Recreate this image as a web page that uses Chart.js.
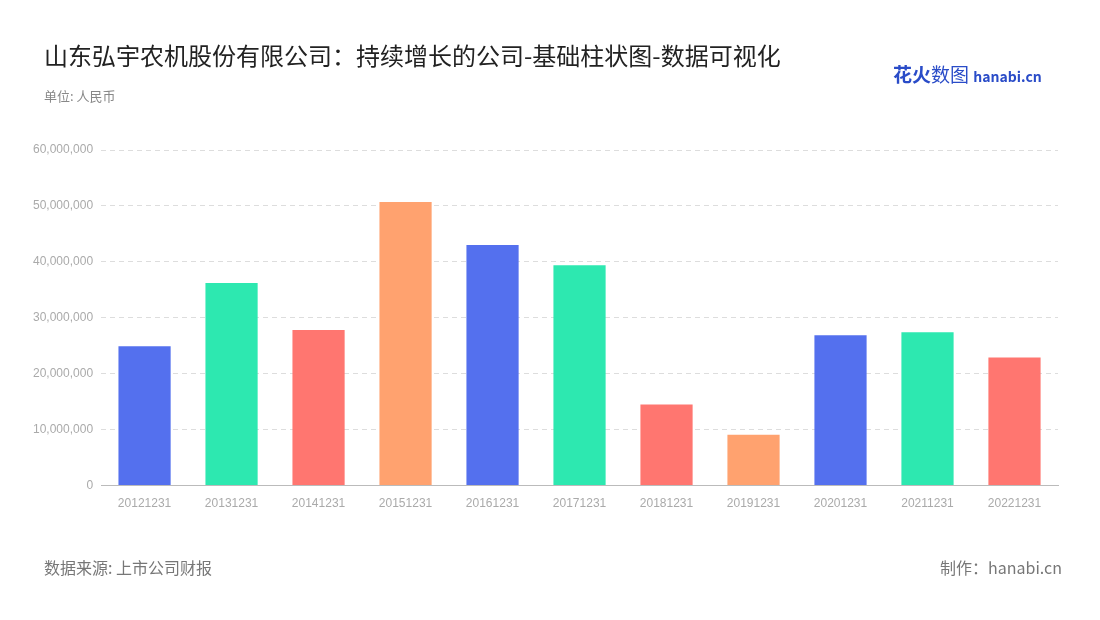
<!DOCTYPE html>
<html>
<head>
<meta charset="utf-8">
<script src="https://cdn.jsdelivr.net/npm/chart.js@4/dist/chart.umd.min.js"></script>
<style>
  body { margin: 0; background: #fff; font-family: "Noto Sans CJK SC", "Noto Sans", sans-serif; }
  #wrap { position: relative; width: 1100px; height: 620px; }
  canvas { position: absolute; left: 0; top: 0; }
  .t { position: absolute; white-space: nowrap; }
</style>
</head>
<body>
<div id="wrap">
  <canvas id="c" width="1100" height="620"></canvas>
  <div class="t" style="left:44px;top:37px;font-size:24px;color:#222;">山东弘宇农机股份有限公司：持续增长的公司-基础柱状图-数据可视化</div>
  <div class="t" style="left:44px;top:86px;font-size:13px;color:#888;">单位: 人民币</div>
  <div class="t" style="left:893px;top:60px;font-size:19px;font-weight:bold;color:#2a4cc8;">花火<span style="font-weight:normal">数图</span> <span style="font-size:14px;">hanabi.cn</span></div>
  <div class="t" style="left:44px;top:555px;font-size:16px;color:#777;">数据来源: 上市公司财报</div>
  <div class="t" style="left:940px;top:555px;font-size:16px;color:#777;">制作：hanabi.cn</div>
</div>
<script>
const categories = ['20121231','20131231','20141231','20151231','20161231','20171231','20181231','20191231','20201231','20211231','20221231'];
const values = [24900000, 36200000, 27800000, 50700000, 43000000, 39400000, 14500000, 9100000, 26900000, 27400000, 22900000];
const palette = ['#5470ee', '#2de8b0', '#ff7670', '#ffa26f'];
const yTicks = [0, 10000000, 20000000, 30000000, 40000000, 50000000, 60000000];

new Chart(document.getElementById('c'), {
  type: 'bar',
  data: {
    labels: categories,
    datasets: [{
      data: values,
      backgroundColor: categories.map((_, i) => palette[i % palette.length]),
      categoryPercentage: 0.6,
      barPercentage: 1
    }]
  },
  options: {
    responsive: false,
    animation: false,
    layout: { padding: { top: 150, bottom: 106, left: 25, right: 42 } },
    plugins: { legend: { display: false }, tooltip: { enabled: false } },
    scales: {
      x: {
        grid: { display: false },
        border: { color: '#bbb' },
        ticks: { color: '#aaa', font: { size: 12 }, maxRotation: 0, autoSkip: false }
      },
      y: {
        min: 0, max: 60000000,
        afterBuildTicks: s => { s.ticks = yTicks.map(v => ({ value: v })); },
        grid: { color: '#ddd', drawTicks: false },
        border: { display: false, dash: [5, 4] },
        ticks: { color: '#aaa', font: { size: 12 }, padding: 8, callback: v => v.toLocaleString('en-US') }
      }
    }
  }
});
</script>
</body>
</html>
